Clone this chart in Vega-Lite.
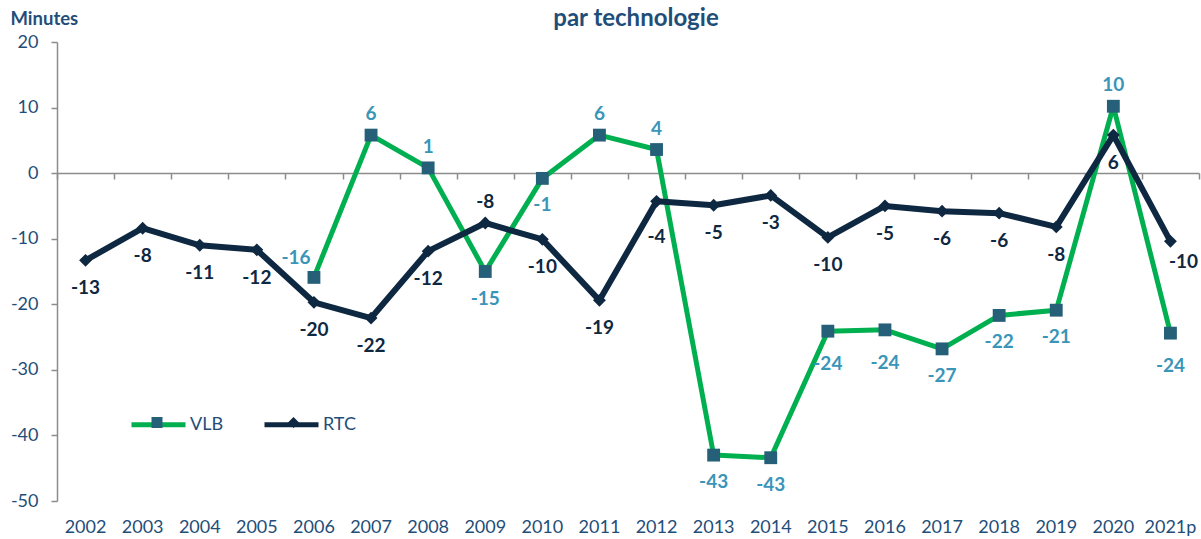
{
  "$schema": "https://vega.github.io/schema/vega-lite/v6.json",
  "width": 1142,
  "height": 459,
  "autosize": {"type": "none"},
  "padding": {"left": 57, "top": 42, "right": 2, "bottom": 38},
  "background": "white",
  "title": {"text": "par technologie", "font": "Lato", "fontSize": 24, "fontWeight": "bold", "color": "#1F4E79", "anchor": "middle", "frame": "group", "offset": -22, "dx": 8},
  "config": {"view": {"stroke": null}, "font": "Lato"},
  "data": {"values": [
    {"year": "2002", "tech": "RTC", "value": -13.3, "label": "-13"},
    {"year": "2003", "tech": "RTC", "value": -8.4, "label": "-8"},
    {"year": "2004", "tech": "RTC", "value": -11.0, "label": "-11"},
    {"year": "2005", "tech": "RTC", "value": -11.7, "label": "-12"},
    {"year": "2006", "tech": "RTC", "value": -19.7, "label": "-20"},
    {"year": "2007", "tech": "RTC", "value": -22.1, "label": "-22"},
    {"year": "2008", "tech": "RTC", "value": -11.9, "label": "-12"},
    {"year": "2009", "tech": "RTC", "value": -7.6, "label": "-8"},
    {"year": "2010", "tech": "RTC", "value": -10.1, "label": "-10"},
    {"year": "2011", "tech": "RTC", "value": -19.4, "label": "-19"},
    {"year": "2012", "tech": "RTC", "value": -4.3, "label": "-4"},
    {"year": "2013", "tech": "RTC", "value": -4.9, "label": "-5"},
    {"year": "2014", "tech": "RTC", "value": -3.4, "label": "-3"},
    {"year": "2015", "tech": "RTC", "value": -9.8, "label": "-10"},
    {"year": "2016", "tech": "RTC", "value": -5.0, "label": "-5"},
    {"year": "2017", "tech": "RTC", "value": -5.8, "label": "-6"},
    {"year": "2018", "tech": "RTC", "value": -6.1, "label": "-6"},
    {"year": "2019", "tech": "RTC", "value": -8.2, "label": "-8"},
    {"year": "2020", "tech": "RTC", "value": 5.8, "label": "6"},
    {"year": "2021p", "tech": "RTC", "value": -10.4, "label": "-10"},
    {"year": "2006", "tech": "VLB", "value": -15.9, "label": "-16"},
    {"year": "2007", "tech": "VLB", "value": 5.8, "label": "6"},
    {"year": "2008", "tech": "VLB", "value": 0.8, "label": "1"},
    {"year": "2009", "tech": "VLB", "value": -15.0, "label": "-15"},
    {"year": "2010", "tech": "VLB", "value": -0.8, "label": "-1"},
    {"year": "2011", "tech": "VLB", "value": 5.8, "label": "6"},
    {"year": "2012", "tech": "VLB", "value": 3.6, "label": "4"},
    {"year": "2013", "tech": "VLB", "value": -43.0, "label": "-43"},
    {"year": "2014", "tech": "VLB", "value": -43.4, "label": "-43"},
    {"year": "2015", "tech": "VLB", "value": -24.1, "label": "-24"},
    {"year": "2016", "tech": "VLB", "value": -23.9, "label": "-24"},
    {"year": "2017", "tech": "VLB", "value": -26.8, "label": "-27"},
    {"year": "2018", "tech": "VLB", "value": -21.7, "label": "-22"},
    {"year": "2019", "tech": "VLB", "value": -20.9, "label": "-21"},
    {"year": "2020", "tech": "VLB", "value": 10.2, "label": "10"},
    {"year": "2021p", "tech": "VLB", "value": -24.4, "label": "-24"}
  ]},
  "resolve": {"axis": {"x": "independent"}},
  "encoding": {
    "y": {"field": "value", "type": "quantitative", "scale": {"domain": [-50, 20], "nice": false, "zero": false},
          "axis": {"orient": "left", "values": [-50, -40, -30, -20, -10, 0, 10, 20], "grid": false, "domainColor": "#8C8C8C", "domainWidth": 1.5, "tickColor": "#8C8C8C", "tickWidth": 1.5, "tickSize": 6, "labelPadding": 13, "labelFont": "Lato", "labelFontSize": 18, "labelColor": "#1F4E79", "labelExpr": "replace(datum.label, '\u2212', '-')",
                   "title": "Minutes", "titleAngle": 0, "titleX": -47, "titleY": -24, "titleAlign": "left", "titleBaseline": "middle", "titleFont": "Lato", "titleFontSize": 18.5, "titleFontWeight": "bold", "titleColor": "#1F4E79"}}
  },
  "layer": [
    {
      "transform": [{"filter": "datum.tech == 'VLB'"}],
      "mark": {"type": "line", "strokeWidth": 5, "strokeJoin": "round", "strokeCap": "round"},
      "encoding": {
        "x": {"field": "year", "type": "ordinal", "scale": {"type": "band", "paddingInner": 0, "paddingOuter": 0},
              "axis": {"orient": "bottom", "title": null, "domain": false, "ticks": false, "labelAngle": 0, "labelFont": "Lato", "labelFontSize": 18, "labelColor": "#1F4E79", "labelPadding": 17, "labelBaseline": "top"}},
        "stroke": {"field": "tech", "type": "nominal", "scale": {"domain": ["VLB", "RTC"], "range": ["#00B050", "#0E2841"]},
                   "legend": {"orient": "none", "legendX": 72, "legendY": 353, "direction": "horizontal", "title": null, "symbolType": "stroke", "symbolSize": 2916, "symbolStrokeWidth": 5, "labelOffset": 2, "columnPadding": 30, "labelFont": "Lato", "labelFontSize": 18, "labelColor": "#1F4E79", "padding": 0}}
      }
    },
    {
      "transform": [{"filter": "datum.tech == 'RTC'"}],
      "mark": {"type": "line", "strokeWidth": 6, "strokeJoin": "round", "strokeCap": "round"},
      "encoding": {
        "x": {"field": "year", "type": "ordinal",
              "axis": {"orient": "top", "offset": -131, "zindex": 0, "title": null, "labels": false, "domain": true, "domainColor": "#8C8C8C", "domainWidth": 1.5, "ticks": true, "tickBand": "extent", "tickColor": "#8C8C8C", "tickWidth": 1.5, "tickSize": -6}},
        "stroke": {"field": "tech", "type": "nominal"}
      }
    },
    {
      "mark": {"type": "point", "filled": true, "opacity": 1, "size": 165, "strokeWidth": 0},
      "encoding": {
        "x": {"field": "year", "type": "ordinal", "axis": null},
        "fill": {"field": "tech", "type": "nominal", "sort": "descending", "scale": {"range": ["#265F78", "#0E2841"]},
                 "legend": {"orient": "none", "legendX": 94.5, "legendY": 375, "direction": "horizontal", "title": null, "symbolSize": 121, "symbolOpacity": 1, "symbolStrokeWidth": 0, "labelOffset": 0, "columnPadding": 125.5, "labelExpr": "''", "padding": 0}},
        "shape": {"field": "tech", "type": "nominal", "sort": "descending", "scale": {"range": ["square", "diamond"]}}
      }
    },
    {
      "transform": [{"filter": "datum.tech == 'VLB' && datum.value >= 0"}],
      "mark": {"type": "text", "font": "Lato", "fontSize": 19, "fontWeight": "bold", "baseline": "middle", "dy": -21},
      "encoding": {
        "x": {"field": "year", "type": "ordinal", "axis": null},
        "text": {"field": "label"},
        "color": {"field": "tech", "type": "nominal", "scale": {"domain": ["VLB", "RTC"], "range": ["#3A95B8", "#0E2841"]}, "legend": null}
      }
    },
    {
      "transform": [{"filter": "datum.tech == 'VLB' && datum.value < 0 && datum.year != '2006' && datum.year != '2015' && datum.year != '2016' && datum.year != '2021p'"}],
      "mark": {"type": "text", "font": "Lato", "fontSize": 19, "fontWeight": "bold", "baseline": "middle", "dy": 27},
      "encoding": {
        "x": {"field": "year", "type": "ordinal", "axis": null},
        "text": {"field": "label"},
        "color": {"field": "tech", "type": "nominal", "legend": null}
      }
    },
    {
      "transform": [{"filter": "datum.tech == 'VLB' && (datum.year == '2015' || datum.year == '2016' || datum.year == '2021p')"}],
      "mark": {"type": "text", "font": "Lato", "fontSize": 19, "fontWeight": "bold", "baseline": "middle", "dy": 33},
      "encoding": {
        "x": {"field": "year", "type": "ordinal", "axis": null},
        "text": {"field": "label"},
        "color": {"field": "tech", "type": "nominal", "legend": null}
      }
    },
    {
      "transform": [{"filter": "datum.tech == 'VLB' && datum.year == '2006'"}],
      "mark": {"type": "text", "font": "Lato", "fontSize": 19, "fontWeight": "bold", "baseline": "middle", "dx": -18, "dy": -19},
      "encoding": {
        "x": {"field": "year", "type": "ordinal", "axis": null},
        "text": {"field": "label"},
        "color": {"field": "tech", "type": "nominal", "legend": null}
      }
    },
    {
      "transform": [{"filter": "datum.tech == 'RTC' && datum.year != '2009' && datum.year != '2012' && datum.year != '2021p'"}],
      "mark": {"type": "text", "font": "Lato", "fontSize": 19, "fontWeight": "bold", "baseline": "middle", "dy": 28},
      "encoding": {
        "x": {"field": "year", "type": "ordinal", "axis": null},
        "text": {"field": "label"},
        "color": {"field": "tech", "type": "nominal", "legend": null}
      }
    },
    {
      "transform": [{"filter": "datum.tech == 'RTC' && datum.year == '2009'"}],
      "mark": {"type": "text", "font": "Lato", "fontSize": 19, "fontWeight": "bold", "baseline": "middle", "dy": -21},
      "encoding": {
        "x": {"field": "year", "type": "ordinal", "axis": null},
        "text": {"field": "label"},
        "color": {"field": "tech", "type": "nominal", "legend": null}
      }
    },
    {
      "transform": [{"filter": "datum.tech == 'RTC' && datum.year == '2012'"}],
      "mark": {"type": "text", "font": "Lato", "fontSize": 19, "fontWeight": "bold", "baseline": "middle", "dy": 36},
      "encoding": {
        "x": {"field": "year", "type": "ordinal", "axis": null},
        "text": {"field": "label"},
        "color": {"field": "tech", "type": "nominal", "legend": null}
      }
    },
    {
      "transform": [{"filter": "datum.tech == 'RTC' && datum.year == '2021p'"}],
      "mark": {"type": "text", "font": "Lato", "fontSize": 19, "fontWeight": "bold", "baseline": "middle", "dx": 13, "dy": 21},
      "encoding": {
        "x": {"field": "year", "type": "ordinal", "axis": null},
        "text": {"field": "label"},
        "color": {"field": "tech", "type": "nominal", "legend": null}
      }
    }
  ]
}
